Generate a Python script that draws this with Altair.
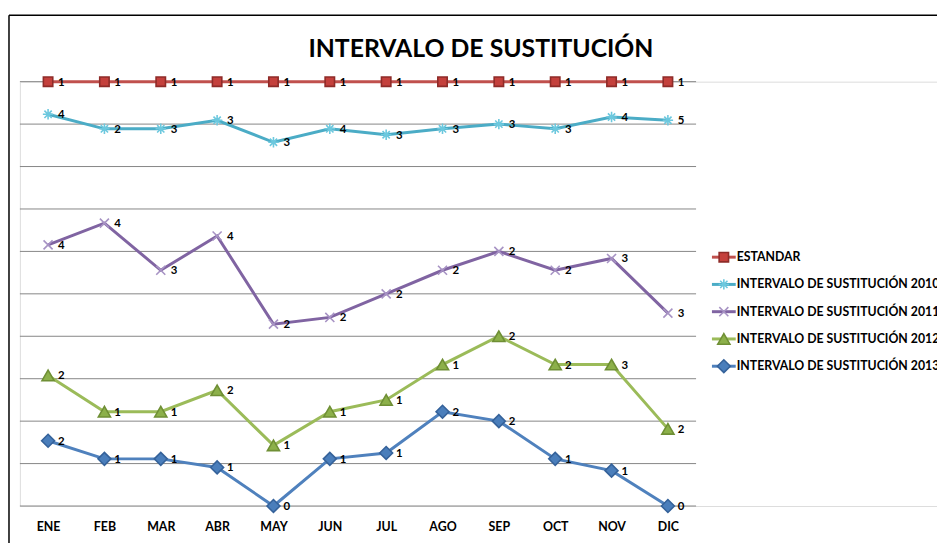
import altair as alt
import pandas as pd

meses = ["ENE", "FEB", "MAR", "ABR", "MAY", "JUN", "JUL", "AGO", "SEP", "OCT", "NOV", "DIC"]

series = [
    "ESTANDAR",
    "INTERVALO DE SUSTITUCIÓN 2010",
    "INTERVALO DE SUSTITUCIÓN 2011",
    "INTERVALO DE SUSTITUCIÓN 2012",
    "INTERVALO DE SUSTITUCIÓN 2013",
]

titulo = "INTERVALO DE SUSTITUCIÓN"

estandar = [1, 1, 1, 1, 1, 1, 1, 1, 1, 1, 1, 1]
is2010 = [4, 2, 3, 3, 3, 4, 3, 3, 3, 3, 4, 5]
is2011 = [4, 4, 3, 4, 2, 2, 2, 2, 2, 2, 3, 3]
is2012 = [2, 1, 1, 2, 1, 1, 1, 1, 2, 2, 3, 2]
is2013 = [2, 1, 1, 1, 0, 1, 1, 2, 2, 1, 1, 0]

# gridline positions of the 100% stacked axis (0% .. 100% every 10%)
rejilla = [0.0, 0.1, 0.2, 0.3, 0.4, 0.5, 0.6, 0.7, 0.8, 0.9, 1.0]

valores = [estandar, is2010, is2011, is2012, is2013]

rows = []
for i, (s, vals) in enumerate(zip(series, valores)):
    for m, v in zip(meses, vals):
        # stack order: 2013 at the bottom, ESTANDAR at the top (100% stacked lines)
        rows.append({"mes": m, "serie": s, "valor": v, "orden": 4 - i})
df = pd.DataFrame(rows)

leg_df = pd.DataFrame({"serie": series, "fila": list(range(len(series)))})
grid_df = pd.DataFrame({"g": rejilla})

line_colors = ["#C0504D", "#4BACC6", "#8064A2", "#9BBB59", "#4F81BD"]
fill_colors = ["#C4403C", "#8FD3E6", "#B3A2C7", "#8CB04A", "#4A7EBB"]
stroke_colors = ["#8E2B28", "#6CC8DE", "#A793C4", "#6F8F35", "#35629A"]
asterisk = "M-1,0H1M0,-1V1M-0.7,-0.7L0.7,0.7M-0.7,0.7L0.7,-0.7"
xcross = "M-0.8,-0.8L0.8,0.8M-0.8,0.8L0.8,-0.8"
shapes = ["square", asterisk, xcross, "triangle-up", "diamond"]
sizes = [90, 170, 150, 130, 150]

color_scale = alt.Scale(domain=series, range=line_colors)
fill_scale = alt.Scale(domain=series, range=fill_colors)
stroke_scale = alt.Scale(domain=series, range=stroke_colors)
shape_scale = alt.Scale(domain=series, range=shapes)
size_scale = alt.Scale(domain=series, range=sizes)

FONT = "Lato"
H = 428
PLOT_W = 682  # width of the line area; the view itself extends to the page edge

x_enc = alt.X(
    "mes:O",
    sort=meses,
    scale=alt.Scale(type="point", padding=0.5, range=[0, PLOT_W]),
    axis=alt.Axis(
        title=None, labelAngle=0, ticks=False, domain=False, grid=False,
        labelFont=FONT, labelFontWeight="bold", labelFontSize=12.5,
        labelColor="black", labelPadding=15,
    ),
)
y_scale = alt.Scale(domain=[0, 1], nice=False)
y_enc = alt.Y("y1:Q", scale=y_scale, axis=None)

grid = alt.Chart(grid_df).mark_rule(color="#868686", strokeWidth=1).encode(
    x=alt.value(0), x2=alt.value(PLOT_W),
    y=alt.Y("g:Q", scale=y_scale, axis=None),
)

base = alt.Chart(df).transform_stack(
    stack="valor",
    groupby=["mes"],
    as_=["y0", "y1"],
    offset="normalize",
    sort=[alt.SortField("orden", order="ascending")],
)

lines = base.mark_line(strokeWidth=3).encode(
    x=x_enc, y=y_enc,
    color=alt.Color("serie:N", scale=color_scale, legend=None),
)

points = base.mark_point(filled=True, opacity=1, strokeWidth=1.6).encode(
    x=x_enc, y=y_enc,
    shape=alt.Shape("serie:N", scale=shape_scale, legend=None),
    fill=alt.Fill("serie:N", scale=fill_scale, legend=None),
    stroke=alt.Stroke("serie:N", scale=stroke_scale, legend=None),
    size=alt.Size("serie:O", scale=size_scale, legend=None),
)

labels = base.mark_text(
    align="left", baseline="middle", dx=10, dy=1,
    font=FONT, fontWeight="bold", fontSize=11.5, color="black",
).encode(
    x=x_enc, y=y_enc,
    text=alt.Text("valor:Q", format=".0f"),
)

# legend rows laid out inside the plot's vertical range (177px .. 287px from the top)
leg_base = alt.Chart(leg_df).transform_calculate(
    ly=f"1 - (177 + datum.fila * 27.5) / {H}"
)
leg_y = alt.Y("ly:Q", scale=y_scale, axis=None)
leg_rule = leg_base.mark_rule(strokeWidth=3).encode(
    x=alt.value(698), x2=alt.value(722), y=leg_y, y2=alt.Y2("ly:Q"),
    color=alt.Color("serie:N", scale=color_scale, legend=None),
)
leg_pts = leg_base.mark_point(filled=True, opacity=1, strokeWidth=1.6).encode(
    x=alt.value(710), y=leg_y,
    shape=alt.Shape("serie:N", scale=shape_scale, legend=None),
    fill=alt.Fill("serie:N", scale=fill_scale, legend=None),
    stroke=alt.Stroke("serie:N", scale=stroke_scale, legend=None),
    size=alt.Size("serie:O", scale=size_scale, legend=None),
)
leg_text = leg_base.mark_text(
    align="left", baseline="middle", font=FONT, fontWeight="bold",
    fontSize=12.4, color="black",
).encode(x=alt.value(723), y=leg_y, text="serie:N")

one = pd.DataFrame({"t": [titulo]})
frame_top = alt.Chart(one).mark_rule(stroke="black", strokeWidth=1.5).encode(
    x=alt.value(-11), x2=alt.value(990), y=alt.value(-67), y2=alt.value(-67)
)
frame_left = alt.Chart(one).mark_rule(stroke="black", strokeWidth=1.5).encode(
    x=alt.value(-11), x2=alt.value(-11), y=alt.value(-67), y2=alt.value(560)
)
title = alt.Chart(one).mark_text(
    align="center", baseline="middle", font=FONT, fontWeight="bold",
    fontSize=25, color="black",
).encode(x=alt.value(465), y=alt.value(-33), text="t:N")

chart = alt.layer(
    frame_top, frame_left, title, grid, lines, points, labels, leg_rule, leg_pts, leg_text
).properties(
    width=925,
    height=H,
    autosize=alt.AutoSizeParams(type="none"),
    padding={"left": 12, "top": 72, "right": 0, "bottom": 35},
).configure_view(strokeWidth=0, stroke="transparent").configure_axisX(
    grid=False, domain=False
).configure(background="white")

chart.save("out.html", embed_options={"renderer": "svg", "actions": False})
